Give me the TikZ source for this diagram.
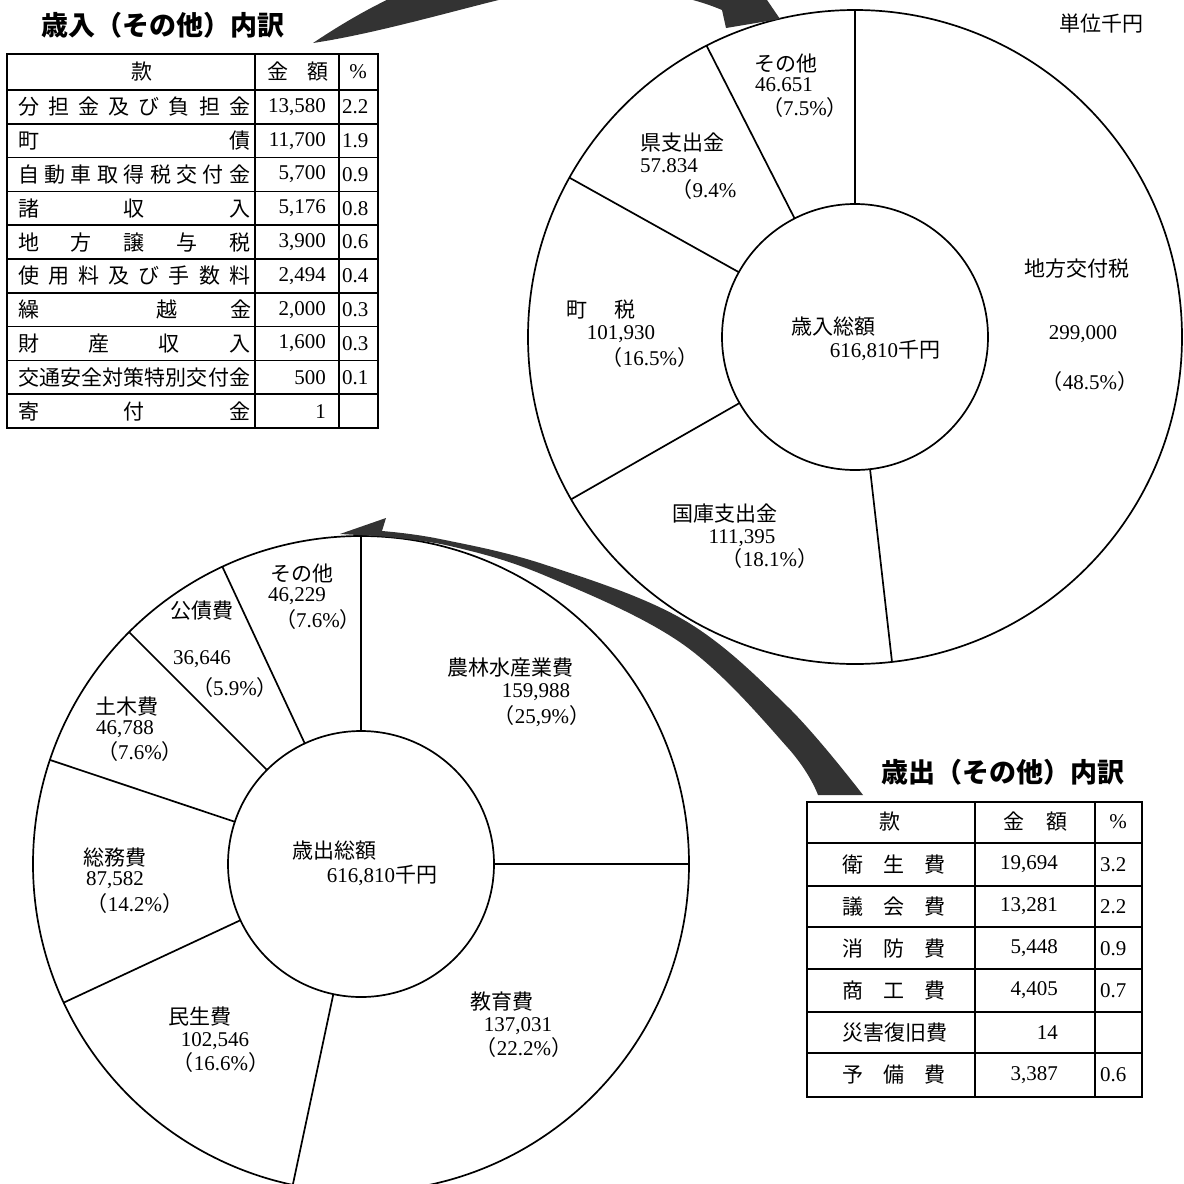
\documentclass[tikz,border=0pt]{standalone}
\usepackage{fontspec}
\setmainfont{Liberation Serif}
\newfontfamily\jp{Noto Sans CJK JP}
\usetikzlibrary{calc}
\newcommand\distr[2]{\makebox[#1][s]{\distloop#2\relax}}
\def\distloop#1{#1\futurelet\distnext\distcheck}
\def\distcheck{\ifx\distnext\relax\expandafter\distend\else\hfill\expandafter\distloop\fi}
\def\distend\relax{}
\tikzset{
  ln/.style={line width=1.7pt},
  tbl/.style={line width=1.6pt},
  tbo/.style={line width=2.4pt},
  lbl/.style={font=\jp\fontsize{21}{21}\selectfont, inner sep=0pt},
  num/.style={font=\fontsize{21}{21}\selectfont, inner sep=0pt},
  ttl/.style={font=\jp\bfseries\fontsize{27}{27}\selectfont, inner sep=0pt},
  arrowfill/.style={fill=black!80},
}
\begin{document}
\begin{tikzpicture}[x=1pt,y=-1pt]
\useasboundingbox (0,0) rectangle (1184,1184);
\clip (0,0) rectangle (1184,1184);
\fill[white] (0,0) rectangle (1184,1184);

% ---------- top donut (revenue) ----------
\coordinate (TC) at (855,337);
\draw[ln] (TC) circle[radius=327];
\draw[ln] (TC) circle[radius=133];
\foreach \a in {90,117,150.84,209.76,276.5}
  \draw[ln] ($(TC)+(-\a:133)$) -- ($(TC)+(-\a:327)$);

\node[lbl] (t1a) at (786,64) {その他};
\node[num] (t1b) at (784,85) {46.651};
\node[num] (t1c) at (805,108) {{\jp （}7.5\%{\jp ）}};
\node[lbl] (t2a) at (682,143) {県支出金};
\node[num] (t2b) at (669,166) {57.834};
\node[num] (t2c) at (704,190) {{\jp （}9.4\%};
\node[lbl] (t3a) at (601,310) {町\hspace{28pt}税};
\node[num] (t3b) at (621,334) {101,930};
\node[num] (t3c) at (650,358) {{\jp （}16.5\%{\jp ）}};
\node[lbl] (t4a) at (833,327) {歳入総額};
\node[num] (t4b) at (885,350) {616,810{\jp 千円}};
\node[lbl] (t5a) at (1077,269) {地方交付税};
\node[num] (t5b) at (1083,334) {299,000};
\node[num] (t5c) at (1090,382) {{\jp （}48.5\%{\jp ）}};
\node[lbl] (t6a) at (725,514) {国庫支出金};
\node[num] (t6b) at (742,538) {111,395};
\node[num] (t6c) at (770,559) {{\jp （}18.1\%{\jp ）}};
\node[lbl] (unit) at (1101,24) {単位千円};

% ---------- bottom donut (expenditure) ----------
\coordinate (BC) at (361,864);
\draw[ln] (BC) circle[radius=328];
\draw[ln] (BC) circle[radius=133];
\foreach \a in {90,115,135,161.5,205,258,0}
  \draw[ln] ($(BC)+(-\a:133)$) -- ($(BC)+(-\a:328)$);

\node[lbl] (b1a) at (302,574) {その他};
\node[num] (b1b) at (297,596) {46,229};
\node[num] (b1c) at (318,620) {{\jp （}7.6\%{\jp ）}};
\node[lbl] (b2a) at (202,611) {公債費};
\node[num] (b2b) at (202,659) {36,646};
\node[num] (b2c) at (235,688) {{\jp （}5.9\%{\jp ）}};
\node[lbl] (b3a) at (127,707) {土木費};
\node[num] (b3b) at (125,729) {46,788};
\node[num] (b3c) at (140,752) {{\jp （}7.6\%{\jp ）}};
\node[lbl] (b4a) at (115,858) {総務費};
\node[num] (b4b) at (115,880) {87,582};
\node[num] (b4c) at (135,904) {{\jp （}14.2\%{\jp ）}};
\node[lbl] (b5a) at (334,851) {歳出総額};
\node[num] (b5b) at (382,875) {616,810{\jp 千円}};
\node[lbl] (b6a) at (200,1017) {民生費};
\node[num] (b6b) at (215,1041) {102,546};
\node[num] (b6c) at (221,1063) {{\jp （}16.6\%{\jp ）}};
\node[lbl] (b7a) at (502,1002) {教育費};
\node[num] (b7b) at (518,1026) {137,031};
\node[num] (b7c) at (524,1048) {{\jp （}22.2\%{\jp ）}};
\node[lbl] (b8a) at (510,668) {農林水産業費};
\node[num] (b8b) at (536,692) {159,988};
\node[num] (b8c) at (542,716) {{\jp （}25,9\%{\jp ）}};

% ---------- arrows ----------
\fill[arrowfill] (313,43) .. controls (370,5) and (450,-40) .. (560,-45)
  .. controls (640,-48) and (700,-30) .. (738,-10) -- (752,-22) -- (780,19)
  -- (726,28) -- (722,10) .. controls (680,-8) and (620,-15) .. (560,-12)
  .. controls (520,-10) and (400,30) .. (313,43) -- cycle;
\fill[arrowfill] (863,795) -- plot[smooth,tension=0.6] coordinates {(863,795) (788,707) (684,620) (546,565) (440,539) (382,531)}
  -- (386,518) -- (340,534)
  -- plot[smooth,tension=0.6] coordinates {(376,536) (450,546) (546,576) (684,645) (788,748) (818,795)} -- cycle;

% ---------- table 1 ----------
\node[ttl] (title1) at (163,25) {歳入（その他）内訳};
\draw[tbo] (7,54) rectangle (378,428);
\draw[tbl] (255,54) -- (255,428);
\draw[tbl] (339,54) -- (339,428);
\draw[tbl] (7,90) -- (378,90);
\foreach \k in {1,...,9} \draw[tbl] (7,90+33.8*\k) -- (378,90+33.8*\k);
\node[lbl] (h1a) at (142,72) {款};
\node[lbl,anchor=west] (h1b) at (267,72) {\distr{61pt}{金額}};
\node[num] (h1c) at (358,72) {\%};

\node[lbl,anchor=west] (r1a) at (18,106.9) {\distr{232pt}{分担金及び負担金}};
\node[num,anchor=east] (r1b) at (326,106.9) {13,580};
\node[num,anchor=west] (r1c) at (342,106.9) {2.2};
\node[lbl,anchor=west] (r2a) at (18,140.7) {\distr{232pt}{町債}};
\node[num,anchor=east] (r2b) at (326,140.7) {11,700};
\node[num,anchor=west] (r2c) at (342,140.7) {1.9};
\node[lbl,anchor=west] (r3a) at (18,174.5) {\distr{232pt}{自動車取得税交付金}};
\node[num,anchor=east] (r3b) at (326,174.5) {5,700};
\node[num,anchor=west] (r3c) at (342,174.5) {0.9};
\node[lbl,anchor=west] (r4a) at (18,208.3) {\distr{232pt}{諸収入}};
\node[num,anchor=east] (r4b) at (326,208.3) {5,176};
\node[num,anchor=west] (r4c) at (342,208.3) {0.8};
\node[lbl,anchor=west] (r5a) at (18,242.1) {\distr{232pt}{地方譲与税}};
\node[num,anchor=east] (r5b) at (326,242.1) {3,900};
\node[num,anchor=west] (r5c) at (342,242.1) {0.6};
\node[lbl,anchor=west] (r6a) at (18,275.9) {\distr{232pt}{使用料及び手数料}};
\node[num,anchor=east] (r6b) at (326,275.9) {2,494};
\node[num,anchor=west] (r6c) at (342,275.9) {0.4};
\node[lbl,anchor=west] (r7a) at (18,309.7) {繰\hspace{117pt}越\hspace{53pt}金};
\node[num,anchor=east] (r7b) at (326,309.7) {2,000};
\node[num,anchor=west] (r7c) at (342,309.7) {0.3};
\node[lbl,anchor=west] (r8a) at (18,343.5) {\distr{232pt}{財産収入}};
\node[num,anchor=east] (r8b) at (326,343.5) {1,600};
\node[num,anchor=west] (r8c) at (342,343.5) {0.3};
\node[lbl,anchor=west] (r9a) at (18,377.3) {\distr{232pt}{交通安全対策特別交付金}};
\node[num,anchor=east] (r9b) at (326,377.3) {500};
\node[num,anchor=west] (r9c) at (342,377.3) {0.1};
\node[lbl,anchor=west] (r10a) at (18,411.1) {\distr{232pt}{寄付金}};
\node[num,anchor=east] (r10b) at (326,411.1) {1};

% ---------- table 2 ----------
\node[ttl] (title2) at (1003,772) {歳出（その他）内訳};
\draw[tbo] (807,802) rectangle (1142,1097);
\draw[tbl] (975,802) -- (975,1097);
\draw[tbl] (1095,802) -- (1095,1097);
\foreach \yy in {843,886,927,969,1012,1053} \draw[tbl] (807,\yy) -- (1142,\yy);
\node[lbl] (h2a) at (890,822) {款};
\node[lbl,anchor=west] (h2b) at (1003,822) {\distr{64pt}{金額}};
\node[num] (h2c) at (1118,822) {\%};

\node[lbl,anchor=west] (s1a) at (842,864.5) {\distr{103pt}{衛生費}};
\node[num,anchor=east] (s1b) at (1058,864.5) {19,694};
\node[num,anchor=west] (s1c) at (1100,864.5) {3.2};
\node[lbl,anchor=west] (s2a) at (842,906.5) {\distr{103pt}{議会費}};
\node[num,anchor=east] (s2b) at (1058,906.5) {13,281};
\node[num,anchor=west] (s2c) at (1100,906.5) {2.2};
\node[lbl,anchor=west] (s3a) at (842,948.5) {\distr{103pt}{消防費}};
\node[num,anchor=east] (s3b) at (1058,948.5) {5,448};
\node[num,anchor=west] (s3c) at (1100,948.5) {0.9};
\node[lbl,anchor=west] (s4a) at (842,990.5) {\distr{103pt}{商工費}};
\node[num,anchor=east] (s4b) at (1058,990.5) {4,405};
\node[num,anchor=west] (s4c) at (1100,990.5) {0.7};
\node[lbl,anchor=west] (s5a) at (842,1032.5) {\distr{103pt}{災害復旧費}};
\node[num,anchor=east] (s5b) at (1058,1032.5) {14};
\node[lbl,anchor=west] (s6a) at (842,1075) {\distr{103pt}{予備費}};
\node[num,anchor=east] (s6b) at (1058,1075) {3,387};
\node[num,anchor=west] (s6c) at (1100,1075) {0.6};
\end{tikzpicture}
\end{document}
